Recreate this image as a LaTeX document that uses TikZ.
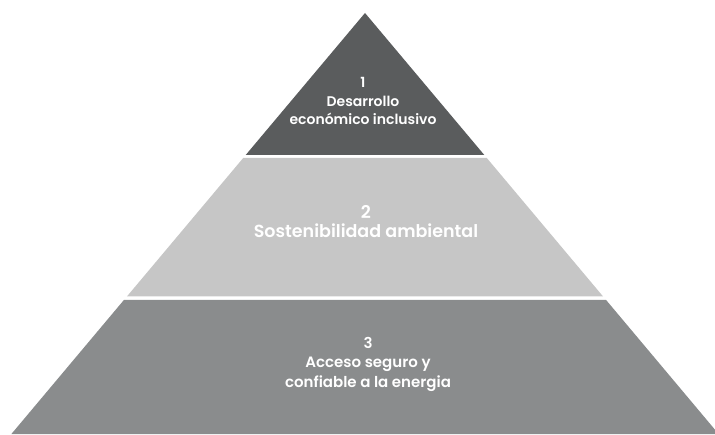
\documentclass[tikz,border=0pt]{standalone}
\usepackage{fontspec}
\newfontfamily\pyrfont{Poppins SemiBold}
\usepackage{tikz}
\usetikzlibrary{calc}

\definecolor{tierdark}{HTML}{5A5C5D}
\definecolor{tierlight}{HTML}{C6C6C6}
\definecolor{tiermid}{HTML}{8A8C8D}

\begin{document}
\begin{tikzpicture}[
    x=1pt, y=1pt,
    label/.style={text=white, align=center, inner sep=0pt},
]
\useasboundingbox (0,0) rectangle (715,434);

% top tier
\fill[tierdark] (365,421) -- (484.3,279) -- (245.7,279) -- cycle;
% middle tier
\fill[tierlight] (243.2,276) -- (486.8,276) -- (603.1,137.5) -- (126.9,137.5) -- cycle;
% bottom tier
\fill[tiermid] (123.9,134) -- (606.1,134) -- (718.6,0) -- (11.4,0) -- cycle;

% labels
\node[label, font=\pyrfont\fontsize{14}{18.5}\selectfont] (one) at (363,333)
  {1\\Desarrollo\\económico inclusivo};
\node[label, font=\pyrfont\fontsize{17.5}{19}\selectfont] (two) at (366,212)
  {2\\Sostenibilidad ambiental};
\node[label, font=\pyrfont\fontsize{15}{19.5}\selectfont] (three) at (368,70)
  {3\\Acceso seguro y\\confiable a la energia};

\end{tikzpicture}
\end{document}
